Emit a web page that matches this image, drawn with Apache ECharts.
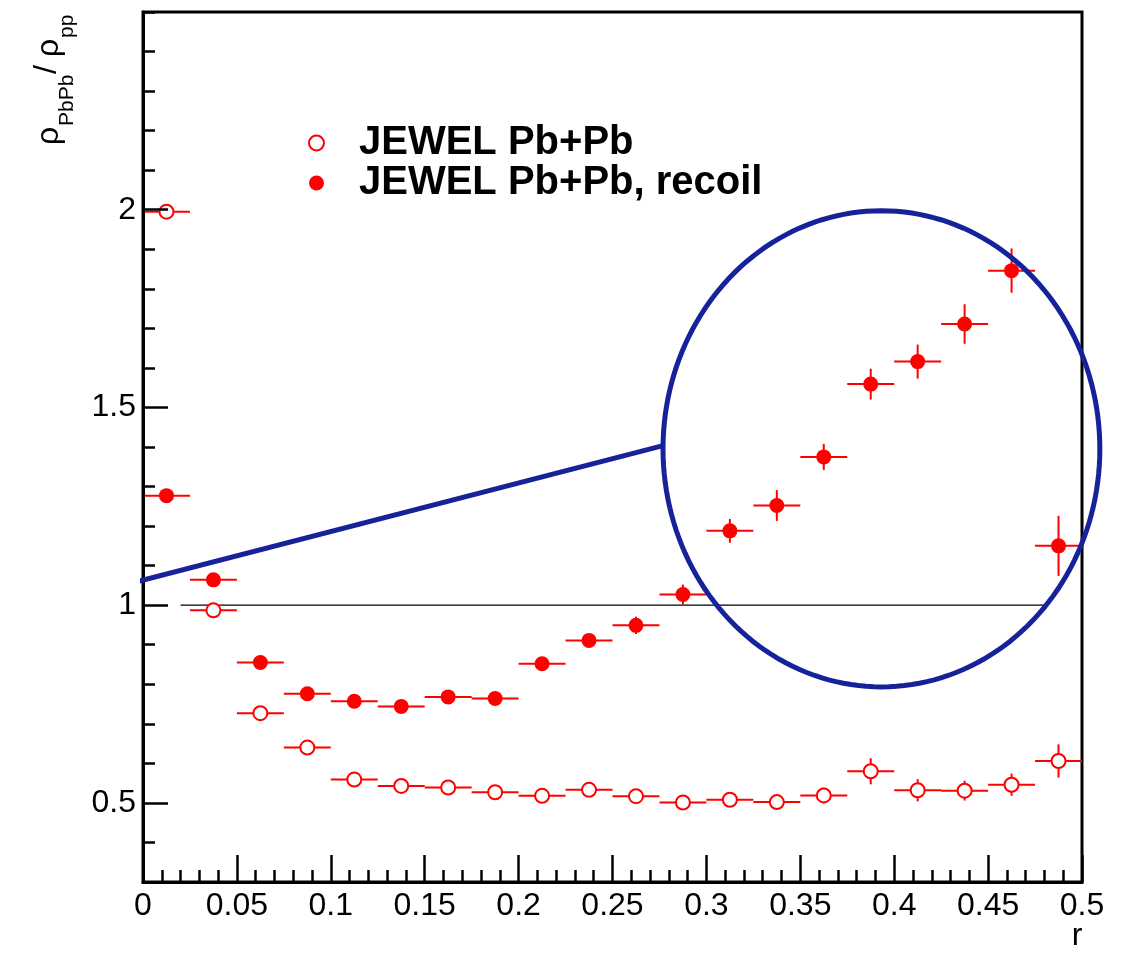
<!DOCTYPE html>
<html>
<head>
<meta charset="utf-8">
<script src="https://cdn.jsdelivr.net/npm/echarts@6/dist/echarts.min.js"></script>
<style>
html,body{margin:0;padding:0;background:#fff;}
#chart{width:1127px;height:954px;}
</style>
</head>
<body>
<div id="chart"></div>
<script>
// ---- data ----
const rCenters = [0.0125,0.0375,0.0625,0.0875,0.1125,0.1375,0.1625,0.1875,0.2125,0.2375,
                  0.2625,0.2875,0.3125,0.3375,0.3625,0.3875,0.4125,0.4375,0.4625,0.4875];
const binHalfWidth = 0.0125;
const pbpbValues = [1.995,0.987,0.727,0.640,0.559,0.543,0.539,0.527,0.518,0.533,
                    0.517,0.501,0.508,0.502,0.519,0.580,0.532,0.531,0.546,0.606];
const pbpbErrors = [0.010,0.010,0.010,0.010,0.010,0.010,0.010,0.010,0.010,0.012,
                    0.012,0.012,0.015,0.015,0.020,0.033,0.028,0.025,0.028,0.042];
const recoilValues = [1.277,1.064,0.855,0.776,0.757,0.744,0.768,0.764,0.852,0.911,
                      0.949,1.027,1.188,1.252,1.375,1.559,1.616,1.711,1.846,1.150];
const recoilErrors = [0.010,0.010,0.010,0.010,0.010,0.010,0.012,0.012,0.015,0.015,
                      0.022,0.025,0.030,0.039,0.033,0.039,0.043,0.050,0.056,0.076];
const seriesNames = ['JEWEL Pb+Pb','JEWEL Pb+Pb, recoil'];
const xTickLabels = ['0','0.05','0.1','0.15','0.2','0.25','0.3','0.35','0.4','0.45','0.5'];
const yMajorTicks = [0.5,1,1.5,2];
const unityLine = [[0.02,1],[0.48,1]];
const annotationLine = [[-0.0761,0.970],[0.2764,1.403]];
const annotationEllipse = [0.3932,1.3954,0.1163,0.602]; // cx, cy, rx, ry (data units)

// ---- build ----
const RED = '#ff0000';
const BLUE = '#16229a';
const FONT = 'Liberation Sans';

function errRender(params, api) {
  const x = api.value(0), y = api.value(1), e = api.value(2);
  const l = api.coord([x - binHalfWidth, y]), r = api.coord([x + binHalfWidth, y]);
  const t = api.coord([x, y + e]), b = api.coord([x, y - e]);
  const st = {stroke: RED, lineWidth: 2};
  return {type:'group', children:[
    {type:'line', shape:{x1:l[0],y1:l[1],x2:r[0],y2:r[1]}, style:st},
    {type:'line', shape:{x1:t[0],y1:t[1],x2:b[0],y2:b[1]}, style:st}
  ]};
}
function ellipseRender(params, api) {
  const cx = api.value(0), cy = api.value(1), rx = api.value(2), ry = api.value(3);
  const pts = [];
  for (let k = 0; k <= 180; k++) {
    const a = 2 * Math.PI * k / 180;
    pts.push(api.coord([cx + rx * Math.cos(a), cy + ry * Math.sin(a)]));
  }
  return {type:'polyline', shape:{points: pts}, style:{stroke: BLUE, lineWidth: 5, fill: null}};
}

const pbpbData = rCenters.map((x,i)=>[x, pbpbValues[i]]);
const recoilData = rCenters.map((x,i)=>[x, recoilValues[i]]);
const pbpbErrData = rCenters.map((x,i)=>[x, pbpbValues[i], pbpbErrors[i]]);
const recoilErrData = rCenters.map((x,i)=>[x, recoilValues[i], recoilErrors[i]]);

const chart = echarts.init(document.getElementById('chart'), null, {renderer:'canvas'});
const option = {
  animation: false,
  backgroundColor: '#fff',
  grid: {left:143, right:45, top:12, bottom:72, show:true, borderColor:'#000', borderWidth:3, backgroundColor:'transparent'},
  legend: {
    orient:'vertical', left:308, top:123, padding:0, itemGap:0,
    itemWidth:15, itemHeight:15,
    data: seriesNames,
    textStyle:{fontFamily:FONT, fontSize:40, fontWeight:'bold', color:'#000', lineHeight:40, padding:[0,0,0,30]}
  },
  xAxis: {
    type:'value', min:0, max:0.5, interval:0.05, z:10,
    axisLine:{show:true, onZero:false, lineStyle:{color:'#000', width:3}},
    axisTick:{show:true, inside:true, length:27, lineStyle:{color:'#000', width:2.5}},
    minorTick:{show:true, splitNumber:5, length:12, lineStyle:{color:'#000', width:2.5}},
    splitLine:{show:false}, minorSplitLine:{show:false},
    axisLabel:{margin:8, fontFamily:FONT, fontSize:32, color:'#000', showMinLabel:true, showMaxLabel:true,
      formatter:(v)=>xTickLabels[Math.round(v/0.05)]}
  },
  yAxis: [{
    type:'value', min:0.3, max:2.5, interval:0.1, z:10, position:'left',
    axisLine:{show:true, onZero:false, lineStyle:{color:'#000', width:3}},
    axisTick:{show:true, inside:true, length:12, lineStyle:{color:'#000', width:2.5}},
    splitLine:{show:false},
    axisLabel:{margin:7, fontFamily:FONT, fontSize:32, color:'#000',
      formatter:(v)=>{
        const m = yMajorTicks.find(t=>Math.abs(t-v)<1e-6);
        return m===undefined ? '' : String(m);
      }}
  },{
    type:'value', min:0.3, max:2.5, interval:0.1, z:10, position:'left',
    axisLine:{show:false},
    axisTick:{show:true, inside:true, length:25, customValues:yMajorTicks, lineStyle:{color:'#000', width:2.5}},
    axisLabel:{show:false},
    splitLine:{show:false}
  }],
  graphic: [
    {type:'text', x:49, y:145, rotation:Math.PI/2, style:{text:'ρ', font:'32px "Liberation Sans"', fill:'#000', textAlign:'left', textVerticalAlign:'middle'}},
    {type:'text', x:67, y:126, rotation:Math.PI/2, style:{text:'PbPb', font:'21px "Liberation Sans"', fill:'#000', textAlign:'left', textVerticalAlign:'middle'}},
    {type:'text', x:47, y:74, rotation:Math.PI/2, style:{text:'/', font:'32px "Liberation Sans"', fill:'#000', textAlign:'left', textVerticalAlign:'middle'}},
    {type:'text', x:49, y:57, rotation:Math.PI/2, style:{text:'ρ', font:'32px "Liberation Sans"', fill:'#000', textAlign:'left', textVerticalAlign:'middle'}},
    {type:'text', x:67, y:38, rotation:Math.PI/2, style:{text:'pp', font:'21px "Liberation Sans"', fill:'#000', textAlign:'left', textVerticalAlign:'middle'}},
    {type:'text', x:1077, y:952, style:{text:'r', font:'32px "Liberation Sans"', fill:'#000', textAlign:'center', textVerticalAlign:'bottom'}}
  ],
  series: [
    {type:'line', data:unityLine, symbol:'none', silent:true, z:1,
     lineStyle:{color:'#000', width:1.2}},
    {type:'custom', renderItem:errRender, data:pbpbErrData, encode:{x:0,y:1}, z:3, silent:true},
    {type:'custom', renderItem:errRender, data:recoilErrData, encode:{x:0,y:1}, z:3, silent:true},
    {name:seriesNames[0], type:'scatter', data:pbpbData, symbol:'circle', symbolSize:14, z:4,
     itemStyle:{color:'#fff', borderColor:RED, borderWidth:2, opacity:1}},
    {name:seriesNames[1], type:'scatter', data:recoilData, symbol:'circle', symbolSize:15, z:4,
     itemStyle:{color:RED, opacity:1}},
    {type:'line', data:annotationLine, symbol:'none', clip:false, silent:true, z:20,
     lineStyle:{color:BLUE, width:5}},
    {type:'custom', renderItem:ellipseRender, data:[annotationEllipse], encode:{x:0,y:1}, clip:false, z:20, silent:true}
  ]
};
chart.setOption(option);
</script>
</body>
</html>
